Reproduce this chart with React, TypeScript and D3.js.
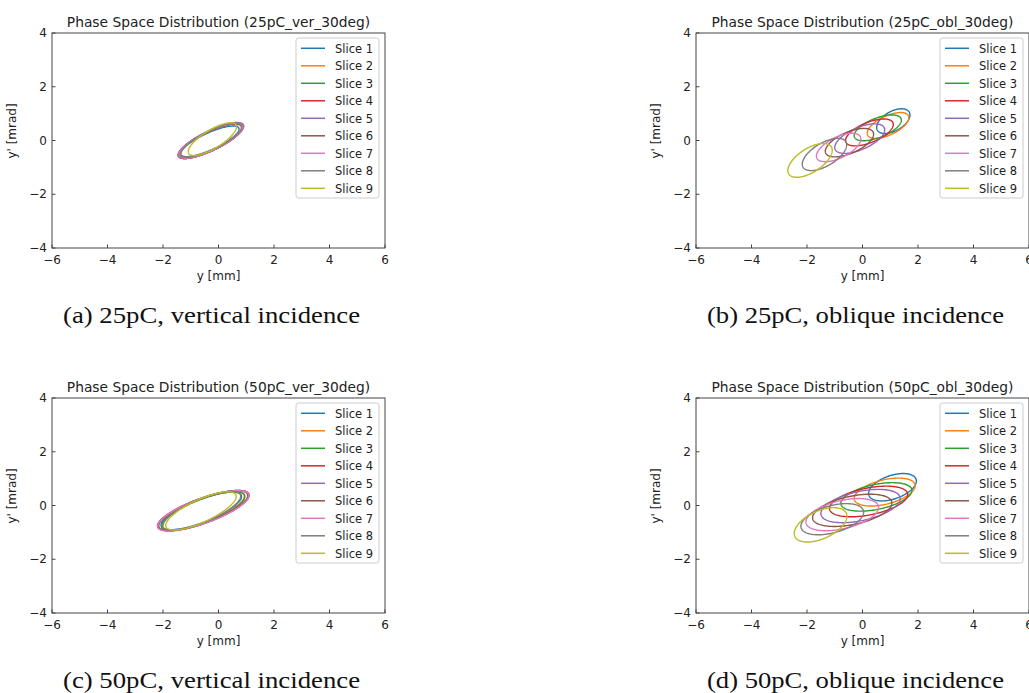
import React from 'react';
import * as d3 from 'd3';

const SLICES = ['Slice 1', 'Slice 2', 'Slice 3', 'Slice 4', 'Slice 5', 'Slice 6', 'Slice 7', 'Slice 8', 'Slice 9'];
const COLORS = ['#1f77b4', '#ff7f0e', '#2ca02c', '#d62728', '#9467bd', '#8c564b', '#e377c2', '#7f7f7f', '#bcbd22'];
const X_TICKS = [-6, -4, -2, 0, 2, 4, 6];
const Y_TICKS = [-4, -2, 0, 2, 4];

// ellipse per slice: centre (cx, cy), half extents (w in mm, h in mrad), correlation r
const ELL_25_VER = [
  { cx: -0.31, cy: -0.03, w: 1.05, h: 0.57, r: 0.8 },
  { cx: -0.28, cy: -0.01, w: 1.10, h: 0.61, r: 0.8 },
  { cx: -0.28, cy: -0.01, w: 1.13, h: 0.63, r: 0.8 },
  { cx: -0.29, cy: -0.02, w: 1.16, h: 0.65, r: 0.8 },
  { cx: -0.27, cy: 0.00, w: 1.18, h: 0.67, r: 0.8 },
  { cx: -0.29, cy: -0.02, w: 1.16, h: 0.65, r: 0.8 },
  { cx: -0.28, cy: -0.01, w: 1.15, h: 0.65, r: 0.8 },
  { cx: -0.26, cy: 0.01, w: 1.10, h: 0.63, r: 0.8 },
  { cx: -0.22, cy: 0.05, w: 0.87, h: 0.61, r: 0.76 },
];
const ELL_25_OBL = [
  { cx: 1.11, cy: 0.72, w: 0.60, h: 0.46, r: 0.5 },
  { cx: 0.92, cy: 0.56, w: 0.75, h: 0.48, r: 0.6 },
  { cx: 0.55, cy: 0.47, w: 0.85, h: 0.48, r: 0.6 },
  { cx: 0.25, cy: 0.30, w: 0.86, h: 0.50, r: 0.6 },
  { cx: -0.10, cy: 0.07, w: 0.90, h: 0.55, r: 0.6 },
  { cx: -0.47, cy: -0.08, w: 0.87, h: 0.53, r: 0.6 },
  { cx: -0.86, cy: -0.26, w: 0.80, h: 0.53, r: 0.6 },
  { cx: -1.37, cy: -0.52, w: 0.80, h: 0.60, r: 0.6 },
  { cx: -1.89, cy: -0.74, w: 0.80, h: 0.63, r: 0.6 },
];
const ELL_50_VER = [
  { cx: -0.62, cy: -0.20, w: 1.45, h: 0.70, r: 0.76 },
  { cx: -0.55, cy: -0.20, w: 1.48, h: 0.72, r: 0.76 },
  { cx: -0.55, cy: -0.21, w: 1.50, h: 0.72, r: 0.76 },
  { cx: -0.55, cy: -0.19, w: 1.65, h: 0.75, r: 0.76 },
  { cx: -0.54, cy: -0.19, w: 1.64, h: 0.75, r: 0.76 },
  { cx: -0.55, cy: -0.19, w: 1.60, h: 0.74, r: 0.76 },
  { cx: -0.55, cy: -0.20, w: 1.64, h: 0.75, r: 0.76 },
  { cx: -0.60, cy: -0.20, w: 1.40, h: 0.72, r: 0.76 },
  { cx: -0.63, cy: -0.20, w: 1.27, h: 0.71, r: 0.76 },
];
const ELL_50_OBL = [
  { cx: 1.08, cy: 0.68, w: 0.86, h: 0.51, r: 0.45 },
  { cx: 0.80, cy: 0.50, w: 1.10, h: 0.52, r: 0.45 },
  { cx: 0.50, cy: 0.32, w: 1.28, h: 0.53, r: 0.45 },
  { cx: 0.22, cy: 0.15, w: 1.41, h: 0.57, r: 0.45 },
  { cx: -0.07, cy: -0.02, w: 1.43, h: 0.62, r: 0.45 },
  { cx: -0.37, cy: -0.18, w: 1.43, h: 0.60, r: 0.45 },
  { cx: -0.73, cy: -0.34, w: 1.31, h: 0.60, r: 0.45 },
  { cx: -1.09, cy: -0.51, w: 1.13, h: 0.58, r: 0.45 },
  { cx: -1.51, cy: -0.72, w: 0.95, h: 0.64, r: 0.5 },
];

const PANELS = [
  { left: 52, top: 33, title: 'Phase Space Distribution (25pC_ver_30deg)', caption: '(a) 25pC, vertical incidence', data: ELL_25_VER },
  { left: 696, top: 33, title: 'Phase Space Distribution (25pC_obl_30deg)', caption: '(b) 25pC, oblique incidence', data: ELL_25_OBL },
  { left: 52, top: 398, title: 'Phase Space Distribution (50pC_ver_30deg)', caption: '(c) 50pC, vertical incidence', data: ELL_50_VER },
  { left: 696, top: 398, title: 'Phase Space Distribution (50pC_obl_30deg)', caption: '(d) 50pC, oblique incidence', data: ELL_50_OBL },
];

const AX_W = 333, AX_H = 215;
const SANS = "'DejaVu Sans', sans-serif";
const SERIF = "'Liberation Serif', 'Times New Roman', serif";
const fmt = (v: number) => (v < 0 ? '\u2212' + Math.abs(v) : String(v));

function Panel({ left, top, title, caption, data }: any) {
  const x = d3.scaleLinear().domain([-6, 6]).range([left, left + AX_W]);
  const y = d3.scaleLinear().domain([-4, 4]).range([top + AX_H, top]);
  const line = d3.line<[number, number]>().x(d => x(d[0])).y(d => y(d[1])).curve(d3.curveLinearClosed);
  const ts = d3.range(0, 180).map(i => (i / 180) * Math.PI * 2);
  const cx = left + AX_W / 2;
  const lgX = left + 244, lgY = top + 5;

  return (
    <g>
      <defs>
        <clipPath id={'clip' + left + top}>
          <rect x={left} y={top} width={AX_W} height={AX_H} />
        </clipPath>
      </defs>
      <text x={cx} y={top - 6.5} textAnchor="middle" fontFamily={SANS} fontSize={13.8} fill="#222">{title}</text>
      <g clipPath={`url(#clip${left}${top})`}>
        {data.map((e: any, i: number) => {
          const s = Math.sqrt(1 - e.r * e.r);
          const pts: [number, number][] = ts.map(t => [e.cx + e.w * Math.cos(t), e.cy + e.h * (e.r * Math.cos(t) + s * Math.sin(t))]);
          return <path key={i} d={line(pts) || ''} fill="none" stroke={COLORS[i]} strokeWidth={1.4} />;
        })}
      </g>
      <rect x={left} y={top} width={AX_W} height={AX_H} fill="none" stroke="#444" strokeWidth={1} />
      {X_TICKS.map(v => (
        <g key={'x' + v}>
          <line x1={x(v)} x2={x(v)} y1={top + AX_H} y2={top + AX_H - 3.5} stroke="#444" />
          <text x={x(v)} y={top + AX_H + 15.5} textAnchor="middle" fontFamily={SANS} fontSize={12} fill="#222">{fmt(v)}</text>
        </g>
      ))}
      {Y_TICKS.map(v => (
        <g key={'y' + v}>
          <line x1={left} x2={left + 3.5} y1={y(v)} y2={y(v)} stroke="#444" />
          <text x={left - 5} y={y(v) + 4} textAnchor="end" fontFamily={SANS} fontSize={12} fill="#222">{fmt(v)}</text>
        </g>
      ))}
      <text x={cx} y={top + AX_H + 32} textAnchor="middle" fontFamily={SANS} fontSize={12} fill="#222">y [mm]</text>
      <text transform={`translate(${left - 36},${top + 98}) rotate(-90)`} textAnchor="middle" fontFamily={SANS} fontSize={12} fill="#222">y' [mrad]</text>
      <rect x={lgX} y={lgY} width={83} height={160} rx={2.5} fill="#fff" fillOpacity={0.8} stroke="#cccccc" strokeWidth={1} />
      {SLICES.map((s, i) => (
        <g key={s}>
          <line x1={lgX + 5} x2={lgX + 29} y1={lgY + 10.3 + i * 17.5} y2={lgY + 10.3 + i * 17.5} stroke={COLORS[i]} strokeWidth={1.5} />
          <text x={lgX + 39} y={lgY + 14.5 + i * 17.5} fontFamily={SANS} fontSize={11.5} fill="#222">{s}</text>
        </g>
      ))}
      <text x={cx - 7} y={top + 290} textAnchor="middle" fontFamily={SERIF} fontSize={24} textLength={297} lengthAdjust="spacingAndGlyphs" fill="#111">{caption}</text>
    </g>
  );
}

export default function App() {
  return (
    <>
      <style>{'body{margin:0;overflow:hidden}'}</style>
      <svg width={1029} height={693} style={{ display: 'block', background: '#fff' }}>
        {PANELS.map(p => <Panel key={p.caption} {...p} />)}
      </svg>
    </>
  );
}
